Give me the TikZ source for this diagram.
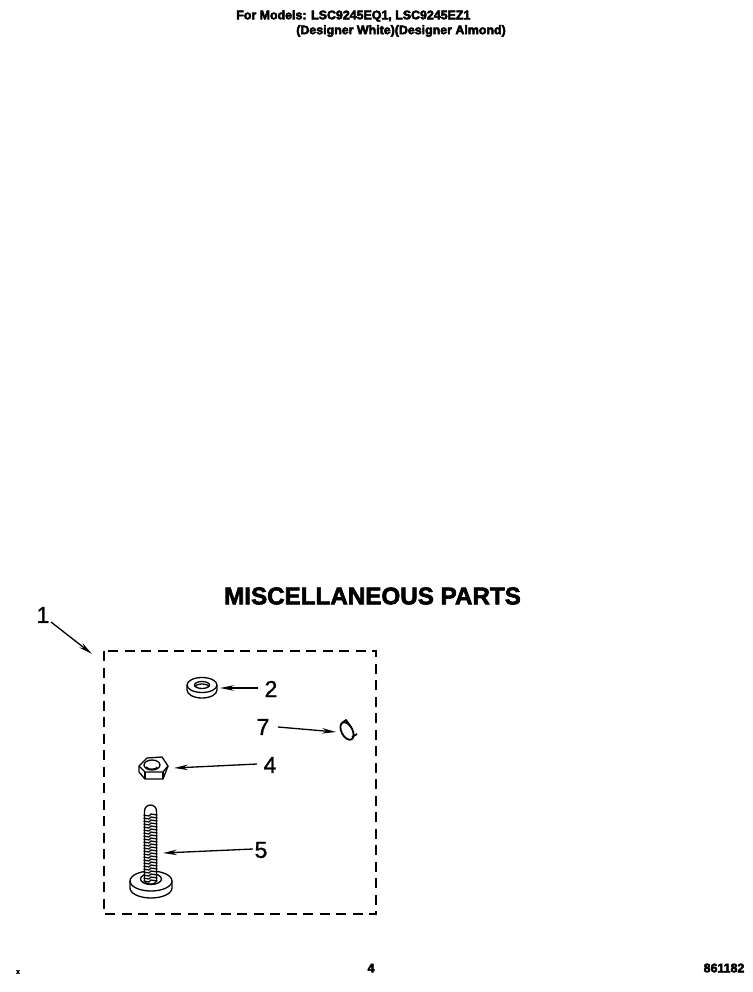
\documentclass[tikz,border=0pt]{standalone}
\usepackage{fontspec}
\setmainfont{Liberation Sans}
\newfontfamily\heavyfont[FakeBold=2.5]{Liberation Sans Bold}
\newfontfamily\blackfont[FakeBold=4]{Liberation Sans Bold}
\newfontfamily\digitfont[FakeBold=1.2]{Liberation Sans}
\usetikzlibrary{arrows.meta,positioning,calc}

\begin{document}
\begin{tikzpicture}[x=1pt, y=-1pt, ->, >={Stealth[length=14pt,width=5.5pt]}, semithick]
\tikzstyle{every node}=[inner sep=0pt,text=black]
\tikzstyle{title}=[font=\blackfont\fontsize{12.4}{14}\selectfont,anchor=west]
\tikzstyle{heading}=[font=\heavyfont\fontsize{24.2}{26}\selectfont]
\tikzstyle{callout}=[font=\digitfont\fontsize{23}{23}\selectfont]
\tikzstyle{footer}=[font=\blackfont\fontsize{12.4}{12}\selectfont]
\tikzstyle{partline}=[-,line width=1.3pt,line join=round]
\tikzstyle{pointer}=[line width=1.3pt]
\useasboundingbox (0,0) rectangle (752,992);

\node[title]    (models) at (236,16)   {For Models: LSC9245EQ1, LSC9245EZ1};
\node[title]    (colors) at (296,31)   {(Designer White)(Designer Almond)};
\node[heading]  (heading) at (372.5,596) {MISCELLANEOUS PARTS};

% kit outline
\draw[-,line width=2pt,dash pattern=on 10pt off 6.5pt] (104,651) rectangle (376,914);

\node[callout]  (n1) at (43,615)  {1};
\node[callout]  (n2) at (271,689) {2};
\node[callout]  (n7) at (263,727) {7};
\node[callout]  (n4) at (270,765) {4};
\node[callout]  (n5) at (261,850) {5};

\coordinate (kit)    at (92,654);
\coordinate (washer) at (220,688);
\coordinate (clip)   at (336,732);
\coordinate (nut)    at (174,768);
\coordinate (screw)  at (163,853);

% washer
\draw[partline] (187,685) -- (187,690) arc[start angle=180,end angle=0,x radius=15,y radius=8] -- (217,685);
\draw[partline,fill=white] (202,685) ellipse[x radius=15,y radius=7.5];
\draw[partline] (202,685) ellipse[x radius=7.5,y radius=3.5];
\draw[partline] (195,687) arc[start angle=180,end angle=360,x radius=7,y radius=3];

% clip
\draw[partline,line width=1.8pt,rotate around={28:(347,731)}] (347,731) ellipse[x radius=5.5,y radius=9.5];
\draw[partline,line width=1.8pt] (342,723) -- (346,720) -- (351,727);
\draw[partline,line width=1.8pt] (352,737) -- (357,734);

% nut
\draw[partline] (139,766) -- (147,758) -- (162,757) -- (168,766) -- (163,779) -- (145,779) -- (139,772) -- cycle;
\draw[partline] (139,766) -- (145,772) -- (163,772) -- (168,766);
\draw[partline] (145,772) -- (145,779) (163,772) -- (163,779);
\draw[partline] (152,765) ellipse[x radius=8,y radius=5];
\draw[partline] (146,767) arc[start angle=160,end angle=20,x radius=6,y radius=3.5];

% screw
\draw[partline] (130,881) -- (130,888) arc[start angle=180,end angle=0,x radius=21,y radius=10] -- (172,881);
\draw[partline,fill=white] (151,881) ellipse[x radius=21,y radius=10];
\draw[partline] (151,879) ellipse[x radius=10.5,y radius=5.5];
\draw[partline,fill=white] (144.5,881) -- (144.5,811) arc[start angle=180,end angle=360,x radius=6,y radius=6] -- (156.5,881) arc[start angle=0,end angle=180,x radius=6,y radius=3];
\foreach \y in {815,818,...,881}
  \draw[partline] (143.5,\y) -- (149,\y+1) -- (151,\y-1) -- (157.5,\y);

% callout arrows
\draw[pointer] (n1) ++(8,7) -- (kit);
\draw[pointer] (n2) ++(-13,-1) -- (washer);
\draw[pointer] (n7) ++(15,0) -- (clip);
\draw[pointer] (n4) ++(-13,-1) -- (nut);
\draw[pointer] (n5) ++(-8,-1) -- (screw);

\node[footer]   (page) at (371,968) {4};
\node[footer]   (code) at (724,968) {861182};
\node[font=\heavyfont\fontsize{7}{7}\selectfont] (mark) at (18,972) {x};
\end{tikzpicture}
\end{document}
